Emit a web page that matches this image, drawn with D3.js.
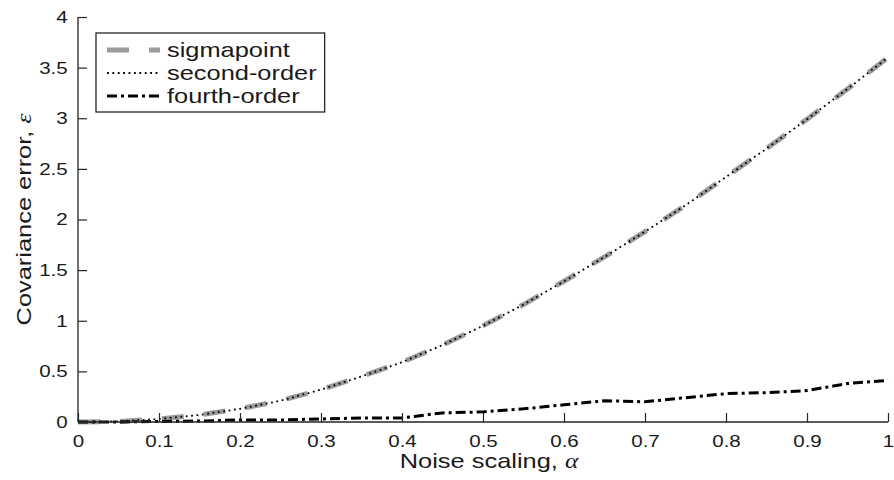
<!DOCTYPE html>
<html>
<head>
<meta charset="utf-8">
<script src="https://cdn.jsdelivr.net/npm/d3@7"></script>
<style>
  body { margin: 0; background: #fff; }
  text { font-family: "Liberation Sans", Arial, sans-serif; fill: #1a1a1a; }
</style>
</head>
<body>
<div id="chart"></div>
<script>
const alphaValues = [0, 0.05, 0.1, 0.15, 0.2, 0.25, 0.3, 0.35, 0.4, 0.45, 0.5,
    0.55, 0.6, 0.65, 0.7, 0.75, 0.8, 0.85, 0.9, 0.95, 1];
const sigmapoint = [0, 0.005, 0.03, 0.07, 0.13, 0.21, 0.32, 0.45, 0.59, 0.76, 0.95,
    1.16, 1.39, 1.63, 1.88, 2.14, 2.42, 2.70, 2.99, 3.29, 3.60];
const secondOrder = [0, 0.006, 0.03, 0.07, 0.13, 0.21, 0.32, 0.45, 0.59, 0.76, 0.95,
    1.16, 1.39, 1.63, 1.88, 2.14, 2.42, 2.70, 2.99, 3.29, 3.60];
const fourthOrder = [0, 0, 0.005, 0.01, 0.02, 0.02, 0.03, 0.04, 0.04, 0.09, 0.10,
    0.13, 0.17, 0.21, 0.20, 0.24, 0.28, 0.29, 0.31, 0.38, 0.41];
const xTicks = [0, 0.1, 0.2, 0.3, 0.4, 0.5, 0.6, 0.7, 0.8, 0.9, 1];
const yTicks = [0, 0.5, 1, 1.5, 2, 2.5, 3, 3.5, 4];
const seriesNames = ["sigmapoint", "second-order", "fourth-order"];

const width = 894;
const height = 480;
const margin = { top: 17, bottom: 58, left: 78, right: 6 };
// the reference font is wider than Liberation Sans, so texts get a horizontal stretch
const stretch = 1.21;

const svg = d3
    .select("#chart")
    .append("svg")
    .attr("width", width)
    .attr("height", height);

const x = d3.scaleLinear().domain([0, 1]).range([margin.left, width - margin.right]);
const y = d3.scaleLinear().domain([0, 4]).range([height - margin.bottom, margin.top]);

// series styles
const styles = [
    { color: "#9a9a9a", width: 5, dash: "22,20" },
    { color: "#000000", width: 1.8, dash: "1.8,3.6" },
    { color: "#000000", width: 3, dash: "10,4,3,4" },
];
const seriesData = [sigmapoint, secondOrder, fourthOrder];

const line = d3.line()
    .x((d) => x(d[0]))
    .y((d) => y(d[1]));

const lines = svg.append("g").attr("id", "lines");
seriesData.forEach((vals, i) => {
    lines.append("path")
        .attr("d", line(alphaValues.map((a, j) => [a, vals[j]])))
        .attr("fill", "none")
        .attr("stroke", styles[i].color)
        .attr("stroke-width", styles[i].width)
        .attr("stroke-dasharray", styles[i].dash);
});

// axes, ticks pointing inward
const xAxis = d3.axisBottom(x).tickValues(xTicks).tickSize(-9).tickPadding(13)
    .tickFormat(d3.format("~g"));
const yAxis = d3.axisLeft(y).tickValues(yTicks).tickSize(-9).tickPadding(8.5)
    .tickFormat(d3.format("~g"));

const xAxisGroup = svg.append("g")
    .attr("transform", `translate(0, ${height - margin.bottom})`)
    .call(xAxis);
const yAxisGroup = svg.append("g")
    .attr("transform", `translate(${margin.left}, 0)`)
    .call(yAxis);

[xAxisGroup, yAxisGroup].forEach((g) => {
    g.select(".domain").attr("stroke", "#262626").attr("stroke-width", 1.3);
    g.selectAll(".tick line").attr("stroke", "#262626").attr("stroke-width", 1.2);
    g.selectAll(".tick text")
        .attr("font-size", 17)
        .attr("font-family", "Liberation Sans, Arial, sans-serif")
        .attr("fill", "#1a1a1a")
        .attr("transform", `scale(${stretch},1)`);
});
xAxisGroup.select(".domain").attr("d", `M${x(0)},0H${x(1)}`);
yAxisGroup.select(".domain").attr("d", `M0,${y(0)}V${y(4)}`);

// axis labels
const xLabel = svg.append("text")
    .attr("transform", `translate(${x(0.5) + 6}, 468) scale(${stretch},1)`)
    .attr("text-anchor", "middle")
    .attr("font-size", 21);
xLabel.append("tspan").text("Noise scaling, ");
xLabel.append("tspan").attr("font-family", "Liberation Serif, serif").attr("font-style", "italic").text("α");

const yLabel = svg.append("text")
    .attr("transform", `translate(31, ${y(2)}) rotate(-90) scale(${stretch},1)`)
    .attr("text-anchor", "middle")
    .attr("font-size", 21);
yLabel.append("tspan").text("Covariance error, ");
yLabel.append("tspan").attr("font-family", "Liberation Serif, serif").attr("font-style", "italic").text("ε");

// legend
const legend = svg.append("g").attr("id", "legend");
const lx = 96, ly = 33, lh = 79, rowH = 23;
const box = legend.append("rect")
    .attr("x", lx).attr("y", ly).attr("height", lh)
    .attr("fill", "#fff").attr("stroke", "#262626").attr("stroke-width", 1.3);
let maxLen = 0;
seriesNames.forEach((name, i) => {
    const cy = ly + 17 + i * rowH;
    legend.append("line")
        .attr("x1", lx + 11).attr("x2", lx + 64)
        .attr("y1", cy).attr("y2", cy)
        .attr("stroke", styles[i].color)
        .attr("stroke-width", styles[i].width)
        .attr("stroke-dasharray", styles[i].dash);
    const t = legend.append("text")
        .attr("transform", `translate(${lx + 71}, ${cy}) scale(${stretch},1)`)
        .attr("dy", "0.35em")
        .attr("font-size", 21)
        .text(name);
    maxLen = Math.max(maxLen, t.node().getComputedTextLength() * stretch);
});
box.attr("width", 71 + maxLen + 8);
</script>
</body>
</html>
